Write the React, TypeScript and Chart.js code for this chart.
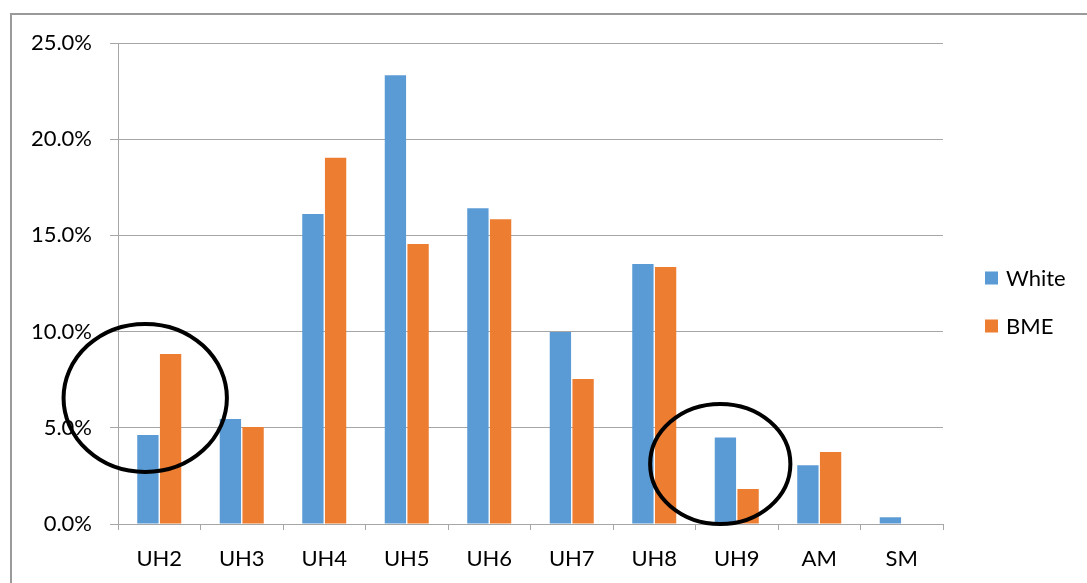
import React, { useEffect, useRef } from "react";
import { Chart, registerables } from "chart.js";

Chart.register(...registerables);

const categories = ["UH2", "UH3", "UH4", "UH5", "UH6", "UH7", "UH8", "UH9", "AM", "SM"];
const whiteValues = [4.63, 5.46, 16.11, 23.32, 16.41, 9.98, 13.51, 4.5, 3.05, 0.35];
const bmeValues = [8.84, 5.04, 19.04, 14.55, 15.84, 7.54, 13.36, 1.82, 3.74, 0];
const seriesNames = ["White", "BME"];
const seriesColors = ["#5b9bd5", "#ed7d31"];
const yMin = 0;
const yMax = 25;
const yStep = 5;

// hand-drawn highlight circles (data units: category index + offset, value in %)
const highlightCategory = [0, 7];
const highlightOffset = [-0.17, -0.2];
const highlightCenter = [6.55, 3.12];
const highlightRadiusX = [0.99, 0.85];
const highlightRadiusY = [3.85, 3.12];

const FONT = "Lato, 'Open Sans', sans-serif";

const ellipsePlugin = {
  id: "highlightEllipses",
  afterDatasetsDraw(chart: any) {
    const xs = chart.scales.x;
    const ys = chart.scales.y;
    const catW = xs.width / categories.length;
    const ctx = chart.ctx;
    ctx.save();
    ctx.strokeStyle = "#000";
    ctx.lineWidth = 4;
    for (let i = 0; i < highlightCategory.length; i++) {
      const cx = xs.getPixelForValue(highlightCategory[i]) + highlightOffset[i] * catW;
      const cy = ys.getPixelForValue(highlightCenter[i]);
      const rx = highlightRadiusX[i] * catW;
      const ry = Math.abs(ys.getPixelForValue(highlightCenter[i] + highlightRadiusY[i]) - cy);
      ctx.beginPath();
      ctx.ellipse(cx, cy, rx, ry, 0, 0, Math.PI * 2);
      ctx.stroke();
    }
    ctx.restore();
  },
};

const sideLegendPlugin = {
  id: "sideLegend",
  afterDraw(chart: any) {
    const ctx = chart.ctx;
    const area = chart.chartArea;
    const x0 = area.right + 42;
    const yCenter = (area.top + area.bottom) / 2 + 18.5;
    const spacing = 48;
    const n = chart.data.datasets.length;
    ctx.save();
    ctx.font = `22px ${FONT}`;
    ctx.textBaseline = "middle";
    ctx.textAlign = "left";
    chart.data.datasets.forEach((ds: any, i: number) => {
      const y = yCenter + (i - (n - 1) / 2) * spacing;
      ctx.fillStyle = ds.backgroundColor;
      ctx.fillRect(x0, y - 6.5, 13, 13);
      ctx.fillStyle = "#000";
      ctx.fillText(ds.label, x0 + 21, y + 1);
    });
    ctx.restore();
  },
};

export default function App() {
  const canvasRef = useRef<HTMLCanvasElement | null>(null);

  useEffect(() => {
    if (!canvasRef.current) return;
    const chart = new Chart(canvasRef.current, {
      type: "bar",
      data: {
        labels: categories,
        datasets: [
          {
            label: seriesNames[0],
            data: whiteValues,
            backgroundColor: seriesColors[0],
            categoryPercentage: 0.55,
            barPercentage: 0.94,
          },
          {
            label: seriesNames[1],
            data: bmeValues,
            backgroundColor: seriesColors[1],
            categoryPercentage: 0.55,
            barPercentage: 0.94,
          },
        ],
      },
      options: {
        responsive: false,
        animation: false,
        layout: { padding: { top: 43, right: 144, bottom: 0, left: 0 } },
        plugins: {
          legend: { display: false },
          tooltip: { enabled: false },
        },
        scales: {
          x: {
            grid: {
              display: true,
              drawOnChartArea: false,
              drawTicks: true,
              tickLength: 6,
              color: "#a6a6a6",
              offset: true,
            },
            border: { display: true, color: "#a6a6a6", width: 1 },
            ticks: {
              color: "#000",
              font: { family: FONT, size: 22 },
              padding: 16,
              maxRotation: 0,
            },
            afterFit: (s: any) => {
              s.height = 59;
            },
          },
          y: {
            min: yMin,
            max: yMax,
            grid: {
              color: "#a6a6a6",
              drawTicks: true,
              tickLength: 8,
            },
            border: { display: true, color: "#a6a6a6", width: 1 },
            ticks: {
              stepSize: yStep,
              color: "#000",
              font: { family: FONT, size: 22 },
              padding: 18,
              callback: (v: any) => Number(v).toFixed(1) + "%",
            },
            afterFit: (s: any) => {
              s.width = 118;
            },
          },
        },
      },
      plugins: [ellipsePlugin, sideLegendPlugin],
    });
    return () => chart.destroy();
  }, []);

  return (
    <div
      style={{
        position: "fixed",
        left: 0,
        top: 0,
        width: 1087,
        height: 583,
        background: "#fff",
        overflow: "hidden",
      }}
    >
      <div
        style={{
          position: "absolute",
          left: 10,
          top: 13,
          width: 1200,
          height: 700,
          borderTop: "2px solid #9a9a9a",
          borderLeft: "2px solid #9a9a9a",
        }}
      />
      <canvas
        ref={canvasRef}
        width={1087}
        height={583}
        style={{ position: "absolute", left: 0, top: 0, width: 1087, height: 583 }}
      />
    </div>
  );
}
